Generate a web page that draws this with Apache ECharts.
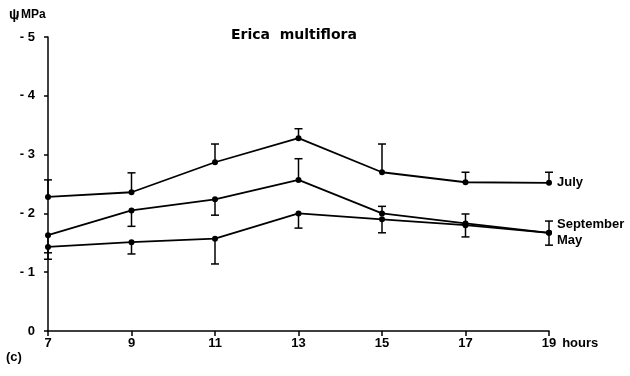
<!DOCTYPE html>
<html><head><meta charset="utf-8">
<script src="https://cdn.jsdelivr.net/npm/echarts@6/dist/echarts.min.js"></script>
<style>html,body{margin:0;padding:0;background:#fff}#c{width:630px;height:376px}</style>
</head><body><div id="c"></div>
<script>
const hours = [7, 9, 11, 13, 15, 17, 19];
const xTicks = [7, 9, 11, 13, 15, 17, 19];
const yTicks = [0, -1, -2, -3, -4, -5];
const julyVals = [-2.28, -2.36, -2.87, -3.28, -2.70, -2.53, -2.52];
const julyErr  = [0.29, 0.33, 0.31, 0.16, 0.48, 0.17, 0.18];
const septVals = [-1.63, -2.05, -2.24, -2.57, -2.00, -1.83, -1.67];
const septErr  = [0.30, 0.27, 0.27, 0.36, 0.12, 0.16, 0.20];
const mayVals  = [-1.43, -1.51, -1.57, -2.00, -1.90, -1.80, -1.67];
const mayErr   = [0.21, 0.20, 0.43, 0.25, 0.23, 0.20, 0.21];
// error direction: -1 = towards more negative (up on chart), +1 = towards zero (down)
const julyDir = [-1, -1, -1, -1, -1, -1, -1];
const septDir = [1, 1, 1, -1, -1, -1, -1];
const mayDir  = [1, 1, 1, 1, 1, 1, 1];

const FONT = 'Liberation Sans, Arial, sans-serif';
const chart = echarts.init(document.getElementById('c'));

function errData(vals, errs, dirs) {
  return hours.map((h, i) => [h, vals[i], vals[i] + dirs[i] * errs[i]]);
}
function errSeries(vals, errs, dirs) {
  return {
    type: 'custom',
    data: errData(vals, errs, dirs),
    z: 3,
    renderItem: function (params, api) {
      const p1 = api.coord([api.value(0), api.value(1)]);
      const p2 = api.coord([api.value(0), api.value(2)]);
      const w = 4;
      return {
        type: 'group',
        children: [
          { type: 'line', shape: { x1: p1[0], y1: p1[1], x2: p2[0], y2: p2[1] }, style: { stroke: '#000', lineWidth: 1.5 } },
          { type: 'line', shape: { x1: p2[0] - w, y1: p2[1], x2: p2[0] + w, y2: p2[1] }, style: { stroke: '#000', lineWidth: 1.5 } }
        ]
      };
    }
  };
}
function lineSeries(name, vals, off) {
  return {
    name: name,
    type: 'line',
    data: hours.map((h, i) => [h, vals[i]]),
    symbol: 'circle',
    symbolSize: 6,
    itemStyle: { color: '#000' },
    lineStyle: { color: '#000', width: 1.8 },
    z: 4,
    endLabel: { show: true, formatter: name, color: '#000', fontFamily: FONT, fontWeight: 'bold', fontSize: 13, offset: off, distance: 8 }
  };
}

chart.setOption({
  animation: false,
  backgroundColor: '#fff',
  title: {
    text: 'Erica  multiflora', left: 226, top: 23,
    textStyle: { fontFamily: 'DejaVu Sans, sans-serif', fontWeight: 'bold', fontSize: 14, color: '#000' }
  },
  grid: { left: 48, right: 81, top: 37, bottom: 45 },
  xAxis: {
    type: 'value', min: 7, max: 19, interval: 2,
    name: 'hours', nameLocation: 'end', nameGap: 10,
    nameTextStyle: { fontFamily: FONT, fontWeight: 'bold', fontSize: 13, color: '#000', verticalAlign: 'top', padding: [6, 0, 0, 0] },
    axisLine: { lineStyle: { color: '#000', width: 1.5 } },
    axisTick: { lineStyle: { color: '#000', width: 1.5 }, length: 5 },
    axisLabel: { fontFamily: FONT, fontWeight: 'bold', fontSize: 13, color: '#000', margin: 6 },
    splitLine: { show: false }
  },
  yAxis: {
    type: 'value', min: -5, max: 0, interval: 1, inverse: true,
    axisLine: { show: true, lineStyle: { color: '#000', width: 1.5 } },
    axisTick: { show: true, lineStyle: { color: '#000', width: 1.5 }, length: 4 },
    axisLabel: { fontFamily: FONT, fontWeight: 'bold', fontSize: 13, color: '#000', margin: 13,
      formatter: v => v === 0 ? '0' : '- ' + Math.abs(v) },
    splitLine: { show: false }
  },
  graphic: [
    { type: 'text', left: 9, top: 8, style: { text: 'ψ', fontFamily: FONT, fontWeight: 'bold', fontSize: 14, fill: '#000' } },
    { type: 'text', left: 16, top: 14, style: { text: 'l', fontFamily: FONT, fontWeight: 'bold', fontSize: 8, fill: '#000' } },
    { type: 'text', left: 21, top: 9, style: { text: 'MPa', fontFamily: FONT, fontWeight: 'bold', fontSize: 12, fill: '#000' } },
    { type: 'text', left: 6, top: 351, style: { text: '(c)', fontFamily: FONT, fontWeight: 'bold', fontSize: 13, fill: '#000' } }
  ],
  series: [
    errSeries(julyVals, julyErr, julyDir),
    errSeries(septVals, septErr, septDir),
    errSeries(mayVals, mayErr, mayDir),
    lineSeries('July', julyVals, [0, 0]),
    lineSeries('September', septVals, [0, -8]),
    lineSeries('May', mayVals, [0, 8])
  ]
});
</script></body></html>
